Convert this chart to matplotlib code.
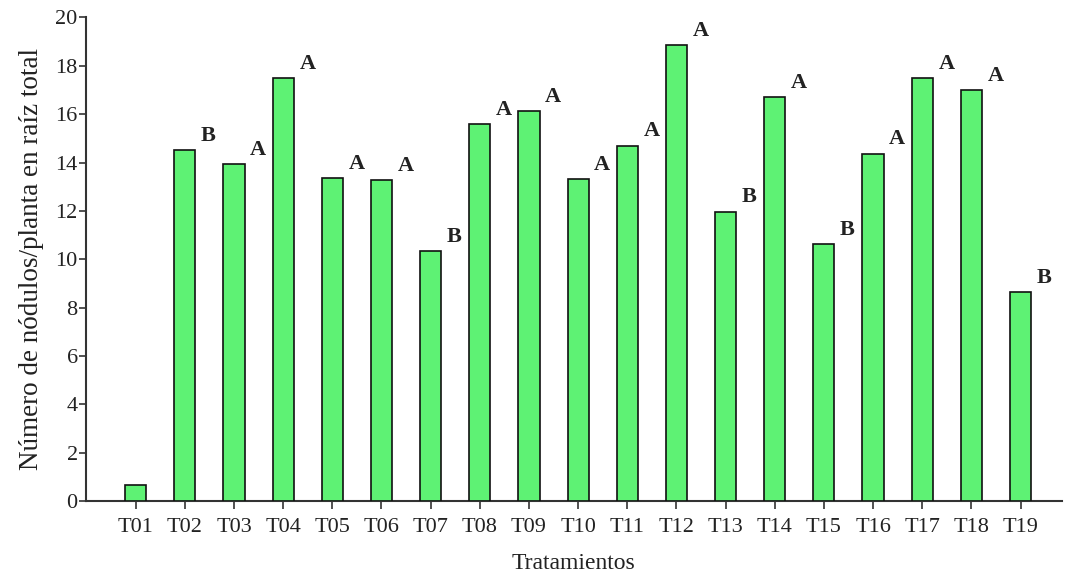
import numpy as np
import matplotlib.pyplot as plt

plt.rcParams['font.family'] = ['Liberation Serif', 'DejaVu Serif']

# treatments and mean nodules per plant
tratamientos = ['T01', 'T02', 'T03', 'T04', 'T05', 'T06', 'T07', 'T08', 'T09', 'T10',
                'T11', 'T12', 'T13', 'T14', 'T15', 'T16', 'T17', 'T18', 'T19']
nodulos = [0.65, 14.53, 13.95, 17.5, 13.37, 13.26, 10.33, 15.6, 16.13, 13.3,
           14.7, 18.86, 11.97, 16.7, 10.64, 14.37, 17.49, 17.0, 8.65]
letras = ['', 'B', 'A', 'A', 'A', 'A', 'B', 'A', 'A', 'A',
          'A', 'A', 'B', 'A', 'B', 'A', 'A', 'A', 'B']

x = np.arange(len(tratamientos))
w = 0.43
txt = '#222222'

fig = plt.figure(figsize=(10.65, 5.77), dpi=100)
ax = fig.add_axes([0.0808, 0.1317, 0.9162, 0.838])

ax.bar(x, nodulos, width=w, color='#5ef274', edgecolor='#111111', linewidth=1.2, zorder=3)

for xi, v, l in zip(x, nodulos, letras):
    if l:
        ax.annotate(l, xy=(xi + w / 2, v), xytext=(4, 3), textcoords='offset points',
                    ha='left', va='bottom', fontsize=16, fontweight='bold', color=txt)

ax.set_xlim(-1.01, 18.84)
ax.set_ylim(0, 20)
ax.set_yticks(np.arange(0, 21, 2))
ax.set_xticks(x)
ax.set_xticklabels(tratamientos)

for s in ['top', 'right']:
    ax.spines[s].set_visible(False)
for s in ['left', 'bottom']:
    ax.spines[s].set_linewidth(1.5)
    ax.spines[s].set_color('#333333')

ax.tick_params(axis='y', direction='out', length=5, width=1.2, pad=1,
               labelsize=16, colors='#333333', labelcolor=txt)
ax.tick_params(axis='x', direction='out', length=6, width=1.2, pad=6,
               labelsize=16, colors='#333333', labelcolor=txt)

ax.set_xlabel('Tratamientos', fontsize=17, color=txt, labelpad=12)
ax.set_ylabel('Número de nódulos/planta en raíz total', fontsize=19.5, color=txt, labelpad=8)

fig.savefig('out.png', dpi=100)
